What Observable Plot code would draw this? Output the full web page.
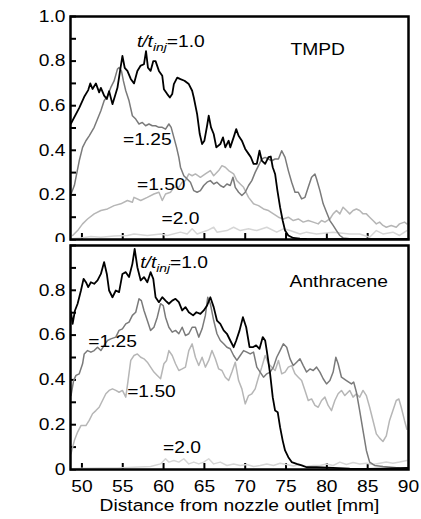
<!DOCTYPE html>
<html><head><meta charset="utf-8">
<script src="https://cdn.jsdelivr.net/npm/d3@7"></script>
<script src="https://cdn.jsdelivr.net/npm/@observablehq/plot@0.6"></script>
<style>
body{margin:0;background:#fff;}
#fig{position:relative;width:421px;height:519px;font-family:"Liberation Sans",Arial,sans-serif;overflow:hidden;}
#fig svg{position:absolute;left:0;}
#ytitle{position:absolute;left:19px;top:242px;transform:translate(-50%,-50%) rotate(-90deg) scaleX(1.18);white-space:nowrap;font-size:16.3px;color:#000;}
</style></head><body>
<div id="fig"><div id="ytitle">Normalized fluorescent intensity</div></div>
<script>
// ---------- data (x: distance mm, y: normalized intensity) ----------
const tmpd10 = [[48.66,0.52],[49.67,0.59],[50.28,0.64],[50.77,0.67],[51.02,0.70],[51.3,0.675],[51.71,0.70],[52.11,0.66],[52.32,0.68],[52.72,0.645],[53.05,0.63],[53.33,0.665],[53.74,0.607],[54.02,0.64],[54.35,0.68],[54.67,0.756],[54.96,0.823],[55.24,0.77],[55.57,0.756],[55.98,0.72],[56.38,0.70],[56.79,0.756],[57.2,0.78],[57.6,0.786],[57.85,0.845],[58.09,0.77],[58.41,0.756],[58.74,0.80],[59.02,0.80],[59.43,0.756],[59.84,0.734],[60.04,0.674],[60.45,0.652],[60.77,0.637],[61.06,0.652],[61.26,0.697],[61.67,0.726],[62.07,0.719],[62.56,0.712],[63.09,0.697],[63.5,0.667],[63.7,0.637],[64.11,0.562],[64.43,0.473],[64.72,0.428],[65.0,0.443],[65.33,0.51],[65.53,0.555],[65.81,0.503],[66.14,0.473],[66.46,0.413],[66.95,0.428],[67.28,0.458],[67.56,0.413],[67.97,0.443],[68.17,0.413],[68.58,0.458],[68.9,0.495],[69.19,0.465],[69.59,0.443],[70.0,0.406],[70.41,0.384],[70.69,0.369],[71.02,0.339],[71.42,0.339],[71.75,0.398],[72.03,0.354],[72.44,0.339],[72.85,0.369],[73.13,0.372],[73.37,0.324],[73.66,0.294],[73.94,0.22],[74.27,0.145],[74.59,0.085],[74.88,0.04],[75.28,0.018],[75.89,0.007],[76.71,0.004],[77.52,0.003],[80,0.002],[83,0.003],[86,0.002],[90,0.003]];
const tmpd125 = [[48.66,0.204],[49.07,0.242],[49.67,0.353],[50.08,0.413],[50.49,0.443],[50.89,0.465],[51.5,0.503],[51.91,0.54],[52.32,0.577],[52.72,0.622],[53.13,0.644],[53.54,0.682],[53.94,0.711],[54.35,0.764],[54.55,0.771],[54.84,0.756],[55.08,0.711],[55.37,0.667],[55.77,0.622],[56.18,0.555],[56.59,0.54],[56.99,0.518],[57.4,0.525],[57.8,0.51],[58.21,0.518],[58.62,0.51],[59.02,0.51],[59.43,0.503],[59.84,0.503],[60.24,0.495],[60.65,0.518],[60.93,0.503],[61.26,0.458],[61.59,0.413],[61.87,0.368],[62.07,0.324],[62.48,0.286],[62.89,0.271],[63.29,0.257],[63.7,0.219],[64.11,0.212],[64.51,0.219],[64.92,0.242],[65.33,0.257],[65.73,0.264],[66.14,0.249],[66.54,0.257],[66.95,0.242],[67.36,0.234],[67.76,0.249],[68.17,0.242],[68.5,0.279],[68.78,0.234],[69.19,0.212],[69.59,0.197],[70.0,0.212],[70.41,0.242],[70.81,0.264],[71.22,0.301],[71.63,0.331],[72.03,0.361],[72.44,0.368],[72.85,0.361],[73.25,0.353],[73.66,0.361],[74.07,0.361],[74.47,0.398],[74.88,0.368],[75.28,0.309],[75.69,0.257],[76.1,0.212],[76.5,0.212],[76.91,0.182],[77.32,0.189],[77.72,0.234],[78.13,0.279],[78.54,0.294],[78.74,0.271],[79.15,0.219],[79.55,0.16],[79.96,0.122],[80.37,0.085],[80.77,0.063],[81.18,0.04],[81.59,0.018],[81.99,0.007],[82.8,0.003],[86,0.002],[90,0.002]];
const tmpd150 = [[48.86,0.018],[49.47,0.04],[50.08,0.07],[50.69,0.092],[51.5,0.115],[52.32,0.13],[53.13,0.137],[53.94,0.152],[54.76,0.16],[55.57,0.175],[56.18,0.167],[56.38,0.189],[57.2,0.175],[58.01,0.189],[58.82,0.204],[59.43,0.212],[59.84,0.175],[60.24,0.204],[60.85,0.212],[61.26,0.234],[61.87,0.234],[62.28,0.257],[62.68,0.264],[63.09,0.294],[63.5,0.286],[63.9,0.294],[64.51,0.279],[65.12,0.294],[65.73,0.309],[66.14,0.286],[66.75,0.309],[67.15,0.331],[67.56,0.324],[67.97,0.309],[68.58,0.294],[68.98,0.264],[69.39,0.249],[69.8,0.234],[70.41,0.189],[71.02,0.16],[71.63,0.152],[72.24,0.137],[72.85,0.13],[73.46,0.115],[74.07,0.1],[74.67,0.092],[75.28,0.1],[75.89,0.085],[76.5,0.092],[77.11,0.078],[77.72,0.085],[78.33,0.078],[78.94,0.07],[79.35,0.085],[79.76,0.078],[80.37,0.092],[80.77,0.115],[81.18,0.13],[81.59,0.115],[81.99,0.145],[82.4,0.13],[82.8,0.115],[83.21,0.13],[83.62,0.137],[84.02,0.13],[84.43,0.115],[84.84,0.115],[85.24,0.1],[85.65,0.085],[86.06,0.07],[86.46,0.078],[86.87,0.063],[87.28,0.055],[87.89,0.063],[88.5,0.055],[88.9,0.07],[89.51,0.078],[89.8,0.07]];
const tmpd20 = [[48.66,0.003],[49.88,0.007],[51.1,0.013],[52.32,0.01],[53.94,0.016],[55.57,0.018],[56.38,0.025],[58.01,0.018],[59.63,0.025],[60.45,0.018],[62.07,0.033],[62.89,0.025],[63.5,0.048],[64.11,0.025],[65.33,0.04],[66.14,0.055],[66.54,0.033],[67.76,0.04],[68.58,0.055],[69.39,0.04],[70.41,0.048],[71.42,0.04],[72.64,0.055],[73.86,0.033],[74.67,0.048],[75.49,0.04],[76.71,0.025],[77.52,0.033],[78.74,0.025],[80.77,0.033],[82.8,0.025],[84.02,0.025],[85.24,0.01],[86.06,0.04],[86.87,0.025],[88.09,0.033],[88.9,0.018],[89.8,0.04]];

const anth10 = [[48.66,0.702],[48.86,0.65],[49.15,0.71],[49.47,0.74],[49.88,0.799],[50.2,0.851],[50.49,0.836],[50.77,0.814],[51.1,0.836],[51.5,0.829],[51.91,0.844],[52.32,0.873],[52.72,0.926],[53.05,0.873],[53.33,0.799],[53.74,0.769],[54.15,0.799],[54.55,0.792],[54.96,0.873],[55.37,0.881],[55.77,0.859],[56.18,0.918],[56.46,0.985],[56.79,0.903],[57.2,0.844],[57.6,0.859],[58.01,0.836],[58.41,0.881],[58.74,0.851],[59.02,0.769],[59.43,0.747],[59.84,0.769],[60.24,0.754],[60.65,0.74],[61.06,0.754],[61.46,0.762],[61.87,0.747],[62.28,0.71],[62.68,0.725],[63.09,0.702],[63.62,0.688],[64.02,0.702],[64.51,0.695],[64.92,0.71],[65.33,0.732],[65.73,0.769],[66.14,0.725],[66.54,0.665],[66.95,0.65],[67.36,0.621],[67.76,0.606],[68.17,0.576],[68.58,0.546],[68.9,0.576],[69.31,0.621],[69.72,0.68],[70.12,0.635],[70.53,0.546],[70.93,0.546],[71.34,0.554],[71.75,0.539],[72.15,0.591],[72.44,0.576],[72.64,0.531],[73.05,0.427],[73.37,0.323],[73.66,0.263],[73.98,0.256],[74.27,0.189],[74.59,0.129],[74.88,0.085],[75.28,0.055],[75.69,0.033],[76.3,0.025],[76.91,0.018],[77.52,0.01],[78.74,0.01],[80.77,0.007],[82.8,0.004],[84.84,0.003],[86.87,0.004],[88.9,0.006],[89.92,0.007]];
const anth125 = [[48.66,0.33],[48.98,0.397],[49.27,0.42],[49.67,0.427],[50.08,0.472],[50.28,0.516],[50.69,0.531],[51.1,0.524],[51.5,0.531],[51.91,0.546],[52.32,0.531],[52.72,0.554],[53.13,0.576],[53.54,0.583],[54.15,0.591],[54.55,0.621],[54.96,0.628],[55.37,0.65],[55.77,0.658],[56.18,0.688],[56.59,0.702],[56.99,0.762],[57.28,0.754],[57.6,0.71],[58.01,0.665],[58.41,0.621],[58.82,0.635],[59.23,0.68],[59.63,0.74],[59.96,0.732],[60.24,0.68],[60.65,0.635],[61.06,0.613],[61.46,0.621],[61.87,0.606],[62.28,0.635],[62.68,0.598],[63.09,0.606],[63.5,0.635],[63.9,0.635],[64.31,0.591],[64.72,0.628],[65.12,0.688],[65.41,0.769],[65.73,0.74],[66.14,0.665],[66.54,0.606],[66.95,0.576],[67.36,0.561],[67.76,0.546],[68.17,0.539],[68.58,0.509],[68.98,0.487],[69.39,0.509],[69.8,0.531],[70.2,0.524],[70.61,0.516],[71.02,0.524],[71.42,0.457],[71.83,0.435],[72.24,0.412],[72.64,0.427],[73.05,0.435],[73.46,0.457],[73.86,0.501],[74.27,0.531],[74.67,0.561],[75.08,0.546],[75.49,0.494],[75.89,0.464],[76.3,0.479],[76.71,0.494],[77.11,0.464],[77.52,0.435],[77.93,0.449],[78.33,0.442],[78.74,0.457],[79.15,0.435],[79.55,0.405],[79.96,0.382],[80.37,0.397],[80.77,0.435],[81.1,0.501],[81.38,0.472],[81.79,0.412],[82.4,0.397],[83.01,0.382],[83.29,0.39],[83.62,0.345],[84.02,0.263],[84.43,0.174],[84.84,0.085],[85.24,0.033],[85.85,0.018],[86.87,0.013],[87.89,0.01],[88.9,0.007],[89.92,0.006]];
const anth150 = [[48.66,0.07],[49.07,0.129],[49.47,0.167],[49.88,0.196],[50.49,0.196],[50.89,0.219],[51.3,0.249],[51.71,0.263],[52.11,0.278],[52.52,0.308],[52.93,0.338],[53.33,0.353],[53.74,0.36],[54.15,0.353],[54.55,0.345],[54.96,0.353],[55.37,0.323],[55.65,0.397],[55.98,0.487],[56.38,0.509],[56.79,0.516],[57.2,0.501],[57.6,0.494],[58.01,0.479],[58.41,0.457],[58.82,0.435],[59.23,0.42],[59.63,0.405],[60.04,0.472],[60.37,0.487],[60.65,0.531],[61.06,0.509],[61.46,0.472],[61.87,0.442],[62.28,0.449],[62.68,0.457],[63.09,0.531],[63.5,0.561],[63.9,0.501],[64.31,0.464],[64.72,0.501],[65.12,0.457],[65.53,0.487],[65.93,0.531],[66.34,0.494],[66.75,0.449],[67.15,0.442],[67.56,0.412],[67.97,0.397],[68.37,0.435],[68.78,0.479],[69.19,0.397],[69.59,0.36],[70.0,0.293],[70.41,0.33],[70.81,0.338],[71.22,0.36],[71.63,0.412],[72.03,0.457],[72.44,0.509],[72.85,0.472],[73.25,0.457],[73.66,0.442],[74.07,0.487],[74.47,0.427],[74.88,0.435],[75.28,0.457],[75.69,0.464],[76.1,0.427],[76.5,0.412],[76.91,0.397],[77.32,0.353],[77.72,0.308],[78.13,0.315],[78.54,0.286],[78.94,0.278],[79.35,0.308],[79.76,0.323],[80.16,0.286],[80.57,0.263],[80.98,0.308],[81.38,0.338],[81.79,0.353],[82.2,0.33],[82.8,0.353],[83.21,0.323],[83.62,0.338],[84.02,0.323],[84.43,0.353],[84.84,0.33],[85.24,0.278],[85.65,0.219],[86.06,0.159],[86.46,0.14],[86.87,0.125],[87.28,0.15],[87.68,0.219],[88.09,0.263],[88.5,0.308],[88.82,0.315],[89.11,0.278],[89.51,0.219],[89.8,0.18]];
const anth20 = [[48.66,0.003],[50.28,0.006],[52.32,0.007],[54.35,0.007],[56.38,0.01],[58.41,0.013],[59.63,0.025],[60.24,0.048],[60.65,0.033],[61.26,0.04],[61.87,0.033],[62.48,0.048],[63.09,0.025],[63.7,0.033],[64.31,0.025],[64.92,0.033],[65.53,0.048],[66.14,0.025],[66.95,0.033],[67.76,0.018],[68.58,0.025],[69.39,0.018],[70.2,0.022],[71.02,0.013],[71.83,0.018],[72.64,0.025],[73.46,0.018],[74.27,0.028],[75.08,0.022],[75.89,0.016],[76.71,0.022],[77.52,0.013],[78.33,0.018],[79.15,0.018],[79.96,0.025],[80.77,0.018],[81.59,0.033],[82.4,0.022],[83.21,0.031],[84.02,0.025],[84.84,0.028],[85.65,0.022],[86.46,0.028],[87.28,0.033],[88.09,0.028],[88.9,0.033],[89.8,0.04]];

// ticks and labels
const xDomain = [48.6, 90];
const xTickMarks = [50, 55, 60, 65, 70, 75, 80, 85];
const xTickLabels = [50, 55, 60, 65, 70, 75, 80, 85, 90];
const yTickMarks = [0, 0.1, 0.2, 0.3, 0.4, 0.5, 0.6, 0.7, 0.8, 0.9, 1.0];
const yLabelsTop = [0, 0.2, 0.4, 0.6, 0.8, 1.0];
const yLabelsBottom = [0, 0.2, 0.4, 0.6, 0.8];
const seriesNames = ["1.0", "1.25", "1.50", "2.0"];
const seriesColors = ["#000000", "#7a7a7a", "#b6b6b6", "#d6d6d6"];
const xTitle = "Distance from nozzle outlet [mm]";

// annotations: lead = italic "t/t_inj" prefix
const tmpdLabels = [
  {x: 56.8, y: 0.86, text: "=1.0", lead: true},
  {x: 75.6, y: 0.823, text: "TMPD"},
  {x: 55.1, y: 0.42, text: "=1.25"},
  {x: 56.8, y: 0.219, text: "=1.50"},
  {x: 59.8, y: 0.067, text: "=2.0"}
];
const anthLabels = [
  {x: 57.2, y: 0.896, text: "=1.0", lead: true},
  {x: 75.5, y: 0.814, text: "Anthracene"},
  {x: 50.85, y: 0.543, text: "=1.25"},
  {x: 55.6, y: 0.323, text: "=1.50"},
  {x: 60.0, y: 0.07, text: "=2.0"}
];

const FS = 16.3;
const W = 421, ML = 70, MR = 13;
const PW = W - ML - MR;

function annotate(labels) {
  return (index, scales) => {
    const g = d3.create("svg:g").attr("font-size", FS).attr("fill", "#000").attr("text-anchor", "start");
    for (const l of labels) {
      const t = g.append("text").attr("x", scales.x(l.x)).attr("y", scales.y(l.y));
      if (l.lead) {
        t.append("tspan").attr("font-style", "italic").text("t/t");
        t.append("tspan").attr("font-style", "italic").attr("font-size", FS * 0.72).attr("dy", 4).text("inj");
        t.append("tspan").attr("dy", -4).text(l.text);
      } else {
        t.text(l.text);
      }
    }
    return g.node();
  };
}

function panel({series, labels, yLabels, height, marginTop, marginBottom, showX}) {
  const PH = height - marginTop - marginBottom;
  const marks = [
    Plot.tickY(yTickMarks, {y: d => d, stroke: "#000", strokeWidth: 2, insetRight: PW - 6}),
    Plot.tickX(xTickMarks, {x: d => d, stroke: "#000", strokeWidth: 2, insetTop: PH - 6}),
    ...series.slice().reverse().map((s, i) => {
      const k = series.length - 1 - i;
      return Plot.line(s, {x: d => d[0], y: d => d[1], stroke: seriesColors[k], strokeWidth: k === 0 ? 1.8 : 1.5});
    }),
    Plot.axisY({ticks: yLabels, tickSize: 0, tickPadding: 5, tickFormat: d => d === 0 ? "0" : d.toFixed(1), label: null}),
    Plot.frame({stroke: "#000", strokeWidth: 2.5}),
    annotate(labels)
  ];
  if (showX) {
    marks.push(Plot.axisX({ticks: xTickLabels, tickSize: 0, tickPadding: 11, tickFormat: d => String(d), label: null}));
    marks.push(Plot.text([xTitle], {frameAnchor: "bottom", dy: 41, fontSize: FS, text: d => d}));
  }
  return Plot.plot({
    width: W, height, marginLeft: ML, marginRight: MR, marginTop, marginBottom,
    x: {domain: xDomain, axis: showX ? undefined : null},
    y: {domain: [0, 1], axis: null},
    style: {fontFamily: "'Liberation Sans', Arial, sans-serif", fontSize: FS + "px", color: "#000", background: "#fff", overflow: "visible"},
    marks
  });
}

const fig = document.getElementById("fig");
const topPanel = panel({series: [tmpd10, tmpd125, tmpd150, tmpd20], labels: tmpdLabels, yLabels: yLabelsTop, height: 242, marginTop: 16, marginBottom: 3, showX: false});
topPanel.style.top = "0px";
const botPanel = panel({series: [anth10, anth125, anth150, anth20], labels: anthLabels, yLabels: yLabelsBottom, height: 277, marginTop: 3, marginBottom: 50, showX: true});
botPanel.style.top = "242px";
fig.appendChild(topPanel);
fig.appendChild(botPanel);

// widen glyphs horizontally like the reference typeface
function stretch(svg, k) {
  svg.querySelectorAll("text").forEach(t => {
    const b = t.getBBox();
    const a = getComputedStyle(t).textAnchor;
    const cx = a === "end" ? b.x + b.width : a === "middle" ? b.x + b.width / 2 : b.x;
    const tr = t.getAttribute("transform") || "";
    t.setAttribute("transform", `${tr} translate(${cx},0) scale(${k},1) translate(${-cx},0)`);
  });
}
stretch(topPanel, 1.18);
stretch(botPanel, 1.18);
</script>
</body></html>
